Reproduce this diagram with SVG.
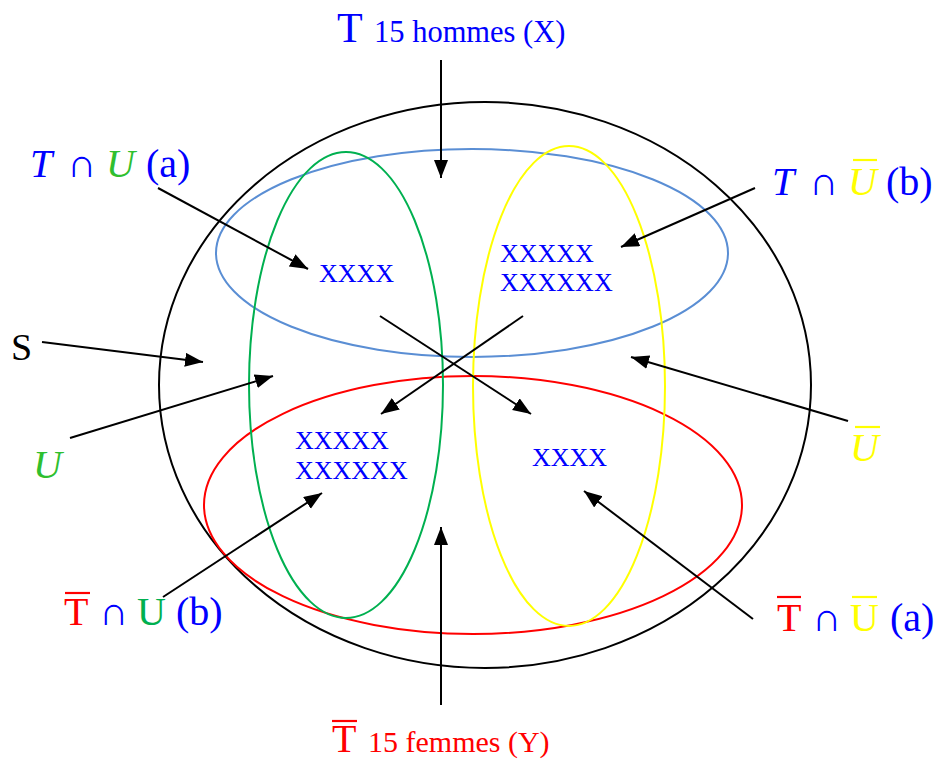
<svg xmlns="http://www.w3.org/2000/svg" width="939" height="760" viewBox="0 0 939 760">
<style>
.sh{fill:none;stroke-width:2}
.c{stroke:#000;stroke-width:2;fill:none;marker-end:url(#ah)}
.t{font-family:"Liberation Serif","DejaVu Serif",serif}
.m{font-family:"Liberation Serif","DejaVu Serif",serif;font-size:40px}
.it{font-style:italic}
.x{font-family:"Liberation Serif",serif;font-size:26px;fill:#0000ff}
.b{fill:#0000ff}.r{fill:#ff0000}.g{fill:#00b050}.gi{fill:#2fbf2f}.y{fill:#ffff00}
.ob{stroke-width:2.2}
</style>
<defs>
<marker id="ah" markerUnits="userSpaceOnUse" markerWidth="20" markerHeight="16" refX="18" refY="7" orient="auto">
<path d="M0,0 L18,7 L0,14 z" fill="#000"/>
</marker>
</defs>
<g id="set-S"><ellipse class="sh" cx="485" cy="385" rx="326" ry="283" stroke="#000"/></g>
<g id="set-T"><ellipse class="sh" cx="472" cy="253" rx="256" ry="104" stroke="#5a8ed4"/></g>
<g id="set-Tbar"><ellipse class="sh" cx="473" cy="505" rx="269" ry="129" stroke="#ff0000"/></g>
<g id="set-U"><ellipse class="sh" cx="346" cy="385" rx="97" ry="233" stroke="#00b050"/></g>
<g id="set-Ubar"><ellipse class="sh" cx="569" cy="386" rx="96" ry="240" stroke="#ffff00"/></g>

<g id="connectors">
<line class="c" x1="441" y1="60" x2="441" y2="178"/>
<line class="c" x1="158" y1="188" x2="308" y2="269"/>
<line class="c" x1="755" y1="188" x2="621" y2="247"/>
<line class="c" x1="42" y1="342" x2="203" y2="362"/>
<line class="c" x1="70" y1="438" x2="273" y2="376"/>
<line class="c" x1="848" y1="421" x2="631" y2="357"/>
<line class="c" x1="163" y1="597" x2="322" y2="493"/>
<line class="c" x1="753" y1="619" x2="584" y2="491"/>
<line class="c" x1="441" y1="705" x2="441" y2="527"/>
<line class="c" x1="380" y1="316" x2="531" y2="414"/>
<line class="c" x1="523" y1="316" x2="381" y2="414"/>
</g>

<g id="label-T">
<text class="t b" x="337" y="42" font-size="42">T</text>
<text class="t b" x="374" y="42" font-size="30.5">15 hommes (X)</text>
</g>
<g id="label-Tbar">
<line class="ob" x1="332" y1="721" x2="357" y2="721" stroke="#ff0000"/>
<text class="t r" x="332" y="752" font-size="40">T</text>
<text class="t r" x="368" y="752" font-size="30">15 femmes (Y)</text>
</g>
<g id="label-TU-a">
<text class="m b it" x="30" y="177">T</text>
<text class="m b" x="67" y="177">∩</text>
<text class="m gi it" x="106" y="177">U</text>
<text class="m b" x="146" y="177">(a)</text>
</g>
<g id="label-TUbar-b">
<text class="m b it" x="772" y="195">T</text>
<text class="m b" x="809" y="195">∩</text>
<line class="ob" x1="853" y1="160" x2="877" y2="160" stroke="#ffff00"/>
<text class="m y it" x="848" y="195">U</text>
<text class="m b" x="886" y="195">(b)</text>
</g>
<g id="label-S"><text class="t" x="11" y="360" font-size="38" fill="#000">S</text></g>
<g id="label-U"><text class="m gi it" x="33" y="478">U</text></g>
<g id="label-Ubar">
<line class="ob" x1="855" y1="427" x2="880" y2="427" stroke="#ffff00"/>
<text class="m y it" x="850" y="461">U</text>
</g>
<g id="label-TbarU-b">
<line class="ob" x1="65" y1="593" x2="90" y2="593" stroke="#ff0000"/>
<text class="m r" x="64" y="625">T</text>
<text class="m b" x="99" y="625">∩</text>
<text class="m g" x="137" y="625">U</text>
<text class="m b" x="176" y="625">(b)</text>
</g>
<g id="label-TbarUbar-a">
<line class="ob" x1="777" y1="597" x2="801" y2="597" stroke="#ff0000"/>
<text class="m r" x="777" y="631">T</text>
<text class="m b" x="812" y="631">∩</text>
<line class="ob" x1="852" y1="597" x2="877" y2="597" stroke="#ffff00"/>
<text class="m y" x="850" y="631">U</text>
<text class="m b" x="890" y="631">(a)</text>
</g>

<g id="counts">
<text class="x" x="319" y="282">XXXX</text>
<text class="x" x="500" y="262">XXXXX</text>
<text class="x" x="500" y="291">XXXXXX</text>
<text class="x" x="295" y="449">XXXXX</text>
<text class="x" x="295" y="479">XXXXXX</text>
<text class="x" x="532" y="466">XXXX</text>
</g>
</svg>
